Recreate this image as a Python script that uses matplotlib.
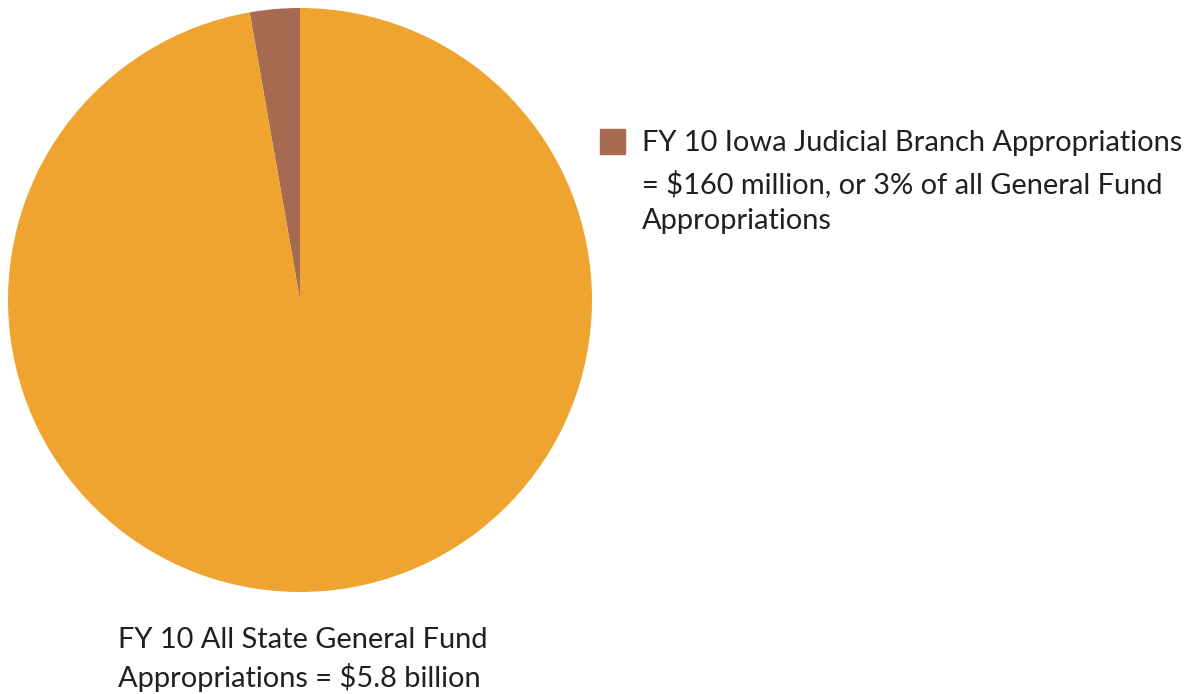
import matplotlib.pyplot as plt
from matplotlib.patches import Rectangle

plt.rcParams['font.family'] = ['Lato', 'DejaVu Sans']

labels = ['FY 10 Iowa Judicial Branch Appropriations', 'Rest of General Fund']
values = [160, 5640]  # $ millions, total $5.8 billion
colors = ['#a66a50', '#f0a430']

W, H = 1187, 694
fig = plt.figure(figsize=(W / 100, H / 100), dpi=100)

# pie placed in pixel terms: centre ~(300, 300), radius ~292
ax = fig.add_axes([8 / W, (H - 592) / H, 584 / W, 584 / H])
ax.pie(values, colors=colors, startangle=90, counterclock=True,
       wedgeprops=dict(linewidth=0))
ax.set_xlim(-1, 1)
ax.set_ylim(-1, 1)
ax.set_aspect('equal')
ax.axis('off')

# legend-like square + text for the judicial slice
fig.patches.append(Rectangle((600 / W, 1 - 154 / H), 25 / W, 25 / H,
                             transform=fig.transFigure, color=colors[0]))
fs = 20.9
txt = '#231f20'
fig.text(642 / W, 1 - 143 / H, 'FY 10 Iowa Judicial Branch Appropriations',
         fontsize=fs, color=txt, va='center')
fig.text(642 / W, 1 - 184 / H, '= $160 million, or 3% of all General Fund',
         fontsize=fs, color=txt, va='center')
fig.text(642 / W, 1 - 221 / H, 'Appropriations',
         fontsize=fs, color=txt, va='center')

fig.text(118 / W, 1 - 640 / H, 'FY 10 All State General Fund',
         fontsize=fs, color=txt, va='center')
fig.text(118 / W, 1 - 678 / H, 'Appropriations = $5.8 billion',
         fontsize=fs, color=txt, va='center')

fig.savefig('out.png', dpi=100)
